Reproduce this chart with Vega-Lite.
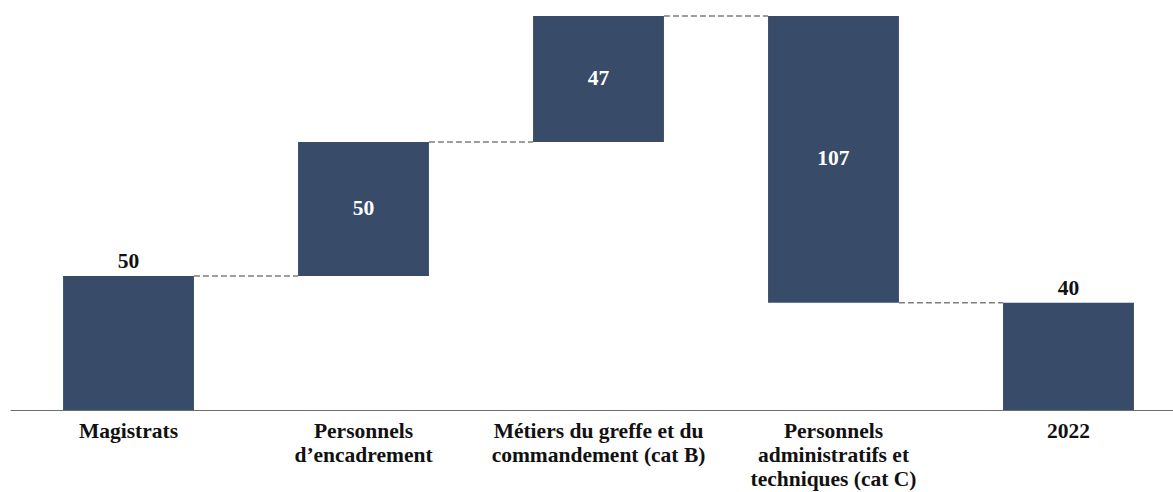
{
  "$schema": "https://vega.github.io/schema/vega-lite/v6.json",
  "width": 1163,
  "height": 402,
  "autosize": "none",
  "padding": {"left": 10, "top": 8, "right": 0, "bottom": 82},
  "background": "white",
  "config": {
    "view": {"stroke": null},
    "font": "Liberation Serif, DejaVu Serif, serif"
  },
  "data": {
    "values": [
      {"category": "Magistrats", "start": 0, "end": 50, "value": 50, "kind": "total", "next": "Personnels|d’encadrement"},
      {"category": "Personnels|d’encadrement", "start": 50, "end": 100, "value": 50, "kind": "delta", "next": "Métiers du greffe et du|commandement (cat B)"},
      {"category": "Métiers du greffe et du|commandement (cat B)", "start": 100, "end": 147, "value": 47, "kind": "delta", "next": "Personnels|administratifs et|techniques (cat C)"},
      {"category": "Personnels|administratifs et|techniques (cat C)", "start": 147, "end": 40, "value": 107, "kind": "delta", "next": "2022"},
      {"category": "2022", "start": 0, "end": 40, "value": 40, "kind": "total", "next": null}
    ]
  },
  "encoding": {
    "x": {
      "field": "category",
      "type": "nominal",
      "sort": null,
      "title": null,
      "scale": {"paddingInner": 0.443, "paddingOuter": 0.196, "align": 0.576},
      "axis": {
        "labelExpr": "split(datum.value, '|')",
        "labelAngle": 0,
        "labelLimit": 0,
        "labelFont": "Liberation Serif, DejaVu Serif, serif",
        "labelFontWeight": "bold",
        "labelFontSize": 21.5,
        "labelColor": "#111111",
        "labelLineHeight": 24,
        "labelPadding": 10,
        "labelBaseline": "top",
        "ticks": false,
        "grid": false,
        "domainColor": "#6e6e6e",
        "domainWidth": 1.2
      }
    }
  },
  "layer": [
    {
      "mark": {"type": "bar", "color": "#384c6a"},
      "encoding": {
        "y": {"field": "start", "type": "quantitative", "scale": {"domain": [0, 150], "nice": false, "zero": true}, "axis": null},
        "y2": {"field": "end"}
      }
    },
    {
      "transform": [{"filter": "datum.next != null"}],
      "mark": {"type": "rule", "color": "#7f7f7f", "strokeDash": [6, 3], "strokeWidth": 1.4},
      "encoding": {
        "x": {"field": "category", "type": "nominal", "sort": null, "bandPosition": 1},
        "x2": {"field": "next", "bandPosition": 0},
        "y": {"field": "end", "type": "quantitative"}
      }
    },
    {
      "transform": [{"filter": "datum.kind == 'total'"}],
      "mark": {"type": "text", "font": "Liberation Serif, DejaVu Serif, serif", "fontWeight": "bold", "fontSize": 21.5, "color": "#111111", "baseline": "alphabetic", "dy": -8},
      "encoding": {
        "y": {"field": "end", "type": "quantitative"},
        "text": {"field": "value", "type": "quantitative"}
      }
    },
    {
      "transform": [
        {"filter": "datum.kind == 'delta'"},
        {"fold": ["start", "end"], "as": ["edge", "level"]},
        {"aggregate": [{"op": "mean", "field": "level", "as": "mid"}], "groupby": ["category", "value"]}
      ],
      "mark": {"type": "text", "font": "Liberation Serif, DejaVu Serif, serif", "fontWeight": "bold", "fontSize": 21.5, "color": "#ffffff", "baseline": "middle"},
      "encoding": {
        "y": {"field": "mid", "type": "quantitative"},
        "text": {"field": "value", "type": "quantitative"}
      }
    }
  ]
}
